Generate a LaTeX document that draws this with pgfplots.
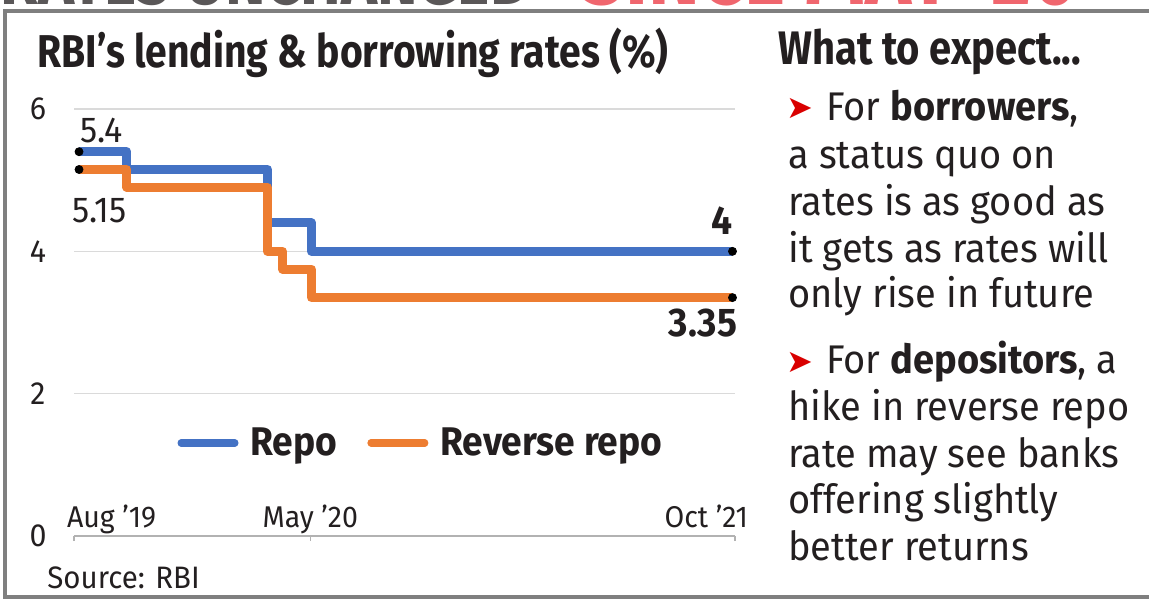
\documentclass[border=0pt]{standalone}
\usepackage{fontspec}
\usepackage{pgfplots}
\pgfplotsset{compat=1.18}
\setmainfont{Fira Sans}[FakeStretch=0.95]
\newfontfamily\titlefont{Fira Sans}[FakeStretch=0.85]
\newfontfamily\legfont{Fira Sans}[FakeStretch=0.93]
\newfontfamily\symfont{DejaVu Sans}
\definecolor{repo}{HTML}{4472C4}
\definecolor{rrepo}{HTML}{ED7D31}
\definecolor{ink}{HTML}{231F20}
\definecolor{gridgray}{HTML}{DADADA}
\definecolor{framegray}{HTML}{7F7F7F}
\definecolor{headred}{HTML}{EE4B55}
\begin{document}
\begin{tikzpicture}
\path[use as bounding box] (0,0) rectangle (574.5pt,-299.5pt);
\begin{scope}[x=0.5pt,y=-0.5pt]
  % cut-off headline
  \begin{scope}
    \clip (0,0) rectangle (1149,9);
    \node[anchor=base west, inner sep=0pt, text=ink!75, font=\titlefont\bfseries\fontsize{36}{38}\selectfont] at (0,5) {RATES UNCHANGED};
    \node[anchor=base west, inner sep=0pt, text=headred!85, font=\titlefont\bfseries\fontsize{46}{48}\selectfont] at (580,5) {SINCE MAY ’20};
  \end{scope}
  % frame
  \draw[framegray, line width=1.6pt] (1170,11) -- (5,11) -- (5,597) -- (1170,597);
  % titles
  \node[anchor=base west, inner sep=0pt, text=ink, font=\titlefont\bfseries\fontsize{23}{25}\selectfont] at (37,68) {RBI’s lending \& borrowing rates (\%)};
  \node[anchor=base west, inner sep=0pt, text=ink, font=\titlefont\bfseries\fontsize{23.5}{25}\selectfont] at (778,65) {What to expect...};
  % right panel text
  \begin{scope}[every node/.style={anchor=base west, inner sep=0pt, text=ink, font=\fontsize{20}{22}\selectfont}]
    \node[text=red!85!black, font=\symfont\fontsize{16}{20}\selectfont] at (786,119) {➤};
    \node at (826,120) {For \textbf{borrowers},};
    \node at (788,168) {a status quo on};
    \node at (788,215) {rates is as good as};
    \node at (788,262) {it gets as rates will};
    \node at (788,307) {only rise in future};
    \node[text=red!85!black, font=\symfont\fontsize{16}{20}\selectfont] at (786,372) {➤};
    \node at (826,373) {For \textbf{depositors}, a};
    \node at (788,420) {hike in reverse repo};
    \node at (788,467) {rate may see banks};
    \node at (788,513) {offering slightly};
    \node at (788,560) {better returns};
  \end{scope}
  \node[anchor=base west, inner sep=0pt, text=ink, font=\fontsize{15.5}{18}\selectfont] at (47,588) {Source: RBI};
\end{scope}
\begin{axis}[
  at={(37pt,-268pt)}, anchor=south west,
  scale only axis, width=330.5pt, height=213.5pt,
  xmin=-0.2, xmax=26.1, ymin=0, ymax=6,
  clip=false,
  axis x line*=bottom, axis y line*=left,
  x axis line style={draw=gray!60, line width=0.6pt, -},
  y axis line style={draw=none},
  ytick={0,2,4,6},
  xmajorgrids=false, ymajorgrids=true,
  grid style={draw=gridgray, line width=0.8pt},
  ytick style={draw=none},
  xtick={-0.2,9.2,26.1},
  xticklabels={\makebox[0pt][l]{\hspace{-3.5pt}Aug ’19},May ’20,\makebox[0pt][r]{Oct ’21\hspace{-6.5pt}}},
  xtick style={draw=gray!60, line width=0.6pt},
  major tick length=2.5pt, tick align=outside,
  xticklabel style={anchor=base, yshift=7pt, font=\fontsize{15}{17}\selectfont, text=ink},
  yticklabel style={anchor=center, xshift=-15.5pt, font=\fontsize{16}{18}\selectfont, text=ink},
  /pgf/number format/assume math mode=true,
  legend columns=2,
  legend style={at={(0.156,0.218)}, anchor=west, draw=none, fill=none, inner sep=0pt,
    font=\legfont\bfseries\fontsize{20}{22}\selectfont, text=ink,
    nodes={inner sep=0pt},
    /tikz/every odd column/.append style={column sep=6pt},
    /tikz/every even column/.append style={column sep=15pt}},
  legend image code/.code={\draw[#1, line width=3.6pt, line cap=round] (1.8pt,0pt) -- (28.7pt,0pt);},
]
\addplot[const plot, repo, line width=4.5pt, line join=round] coordinates {
  (0,5.4) (1.9,5.15) (7.5,4.4) (9.25,4.0) (26,4.0)};
\addlegendentry{Repo}
\addplot[const plot, rrepo, line width=4.5pt, line join=round] coordinates {
  (0,5.15) (1.9,4.9) (7.5,4.0) (8.1,3.75) (9.25,3.35) (26,3.35)};
\addlegendentry{Reverse repo}
\addplot[only marks, mark=*, mark size=2pt, black, forget plot] coordinates {
  (0,5.4) (0,5.15) (26,4.0) (26,3.35)};
\node[anchor=base west, inner sep=0pt, text=ink, font=\fontsize{18}{20}\selectfont] at (axis cs:0.04,5.53) {5.4};
\node[anchor=base west, inner sep=0pt, text=ink, font=\fontsize{18}{20}\selectfont] at (axis cs:-0.28,4.40) {5.15};
\node[anchor=base east, inner sep=0pt, text=ink, font=\legfont\bfseries\fontsize{20}{22}\selectfont] at (axis cs:26.0,4.23) {4};
\node[anchor=base east, inner sep=0pt, text=ink, font=\legfont\bfseries\fontsize{20}{22}\selectfont] at (axis cs:26.2,2.80) {3.35};
\end{axis}
\end{tikzpicture}
\end{document}
